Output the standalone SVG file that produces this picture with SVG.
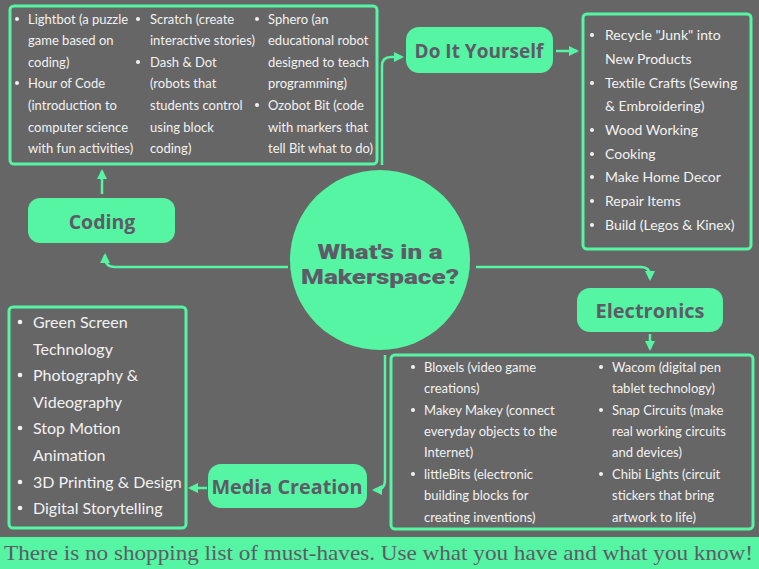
<svg xmlns="http://www.w3.org/2000/svg" width="759" height="569" viewBox="0 0 759 569">
<defs>
<style>
.bg{fill:#666666}
.box{fill:none;stroke:#55f5a3;stroke-width:3}
.node{fill:#55f5a3}
.lbl{font-family:"Open Sans","Liberation Sans",sans-serif;font-weight:bold;fill:#5e5b68;text-anchor:middle}
.ctr{font-family:Roboto,"Liberation Sans",sans-serif;font-weight:900;fill:#5e5b68;text-anchor:middle;font-size:21px}
.t{font-family:Lato,"Liberation Sans",sans-serif;fill:#f2f2f2}
.t13{font-size:13px}
.t14{font-size:14px}
.t16{font-size:16px}
.b{fill:#f2f2f2}
.conn{fill:none;stroke:#55f5a3;stroke-width:2.5}
</style>
<marker id="ah" viewBox="0 0 10 10" refX="8" refY="5" markerWidth="4" markerHeight="4" orient="auto" markerUnits="strokeWidth">
<path d="M0,0 L10,5 L0,10 Z" fill="#55f5a3"/>
</marker>
</defs>
<rect class="bg" x="0" y="0" width="759" height="569"/>

<g id="connectors">
<path class="conn" d="M382,165 L382,66 Q382,57 391,57 L402,57" marker-end="url(#ah)"/>
<path class="conn" d="M556,51 L577,51" marker-end="url(#ah)"/>
<path class="conn" d="M102,194 L102,171" marker-end="url(#ah)"/>
<path class="conn" d="M288,267 L115,267 Q105,267 105,257 L105,255" marker-end="url(#ah)"/>
<path class="conn" d="M476,267 L641,267 Q650,267 650,276 L650,279" marker-end="url(#ah)"/>
<path class="conn" d="M650,334 L650,349" marker-end="url(#ah)"/>
<path class="conn" d="M385,355 L385,480 Q385,490 375,490 L374,490" marker-end="url(#ah)"/>
<path class="conn" d="M207,488 L190,488" marker-end="url(#ah)"/>
</g>

<g id="center">
<circle class="node" cx="380" cy="260" r="90"/>
<text class="ctr" x="380" y="259" textLength="125" lengthAdjust="spacingAndGlyphs">What's in a</text>
<text class="ctr" x="380" y="284" textLength="158" lengthAdjust="spacingAndGlyphs">Makerspace?</text>
</g>

<g id="coding">
<rect class="node" x="28" y="198" width="147" height="45" rx="12"/>
<text class="lbl" x="102" y="229" font-size="19.5">Coding</text>
</g>

<g id="coding-list">
<rect class="box" x="10" y="6" width="367" height="158" rx="4"/>
<g class="t t13">
<text x="28" y="24">Lightbot (a puzzle</text>
<text x="28" y="45">game based on</text>
<text x="28" y="67">coding)</text>
<text x="28" y="88">Hour of Code</text>
<text x="28" y="110">(introduction to</text>
<text x="28" y="132">computer science</text>
<text x="28" y="153">with fun activities)</text>
<text x="150" y="24">Scratch (create</text>
<text x="150" y="45">interactive stories)</text>
<text x="150" y="67">Dash &amp; Dot</text>
<text x="150" y="88">(robots that</text>
<text x="150" y="110">students control</text>
<text x="150" y="132">using block</text>
<text x="150" y="153">coding)</text>
<text x="268" y="24">Sphero (an</text>
<text x="268" y="45">educational robot</text>
<text x="268" y="67">designed to teach</text>
<text x="268" y="88">programming)</text>
<text x="268" y="110">Ozobot Bit (code</text>
<text x="268" y="132">with markers that</text>
<text x="268" y="153">tell Bit what to do)</text>
</g>
<g class="b">
<circle cx="17" cy="19" r="2"/><circle cx="17" cy="83" r="2"/>
<circle cx="138" cy="19" r="2"/><circle cx="138" cy="62" r="2"/>
<circle cx="257" cy="19" r="2"/><circle cx="257" cy="105" r="2"/>
</g>
</g>

<g id="diy">
<rect class="node" x="406" y="27" width="147" height="46" rx="13"/>
<text class="lbl" x="479" y="58" font-size="19">Do It Yourself</text>
</g>

<g id="diy-list">
<rect class="box" x="583" y="14" width="168" height="235" rx="4"/>
<g class="t t14">
<text x="605" y="40">Recycle "Junk" into</text>
<text x="605" y="64">New Products</text>
<text x="605" y="88">Textile Crafts (Sewing</text>
<text x="605" y="111">&amp; Embroidering)</text>
<text x="605" y="135">Wood Working</text>
<text x="605" y="159">Cooking</text>
<text x="605" y="182">Make Home Decor</text>
<text x="605" y="206">Repair Items</text>
<text x="605" y="230">Build (Legos &amp; Kinex)</text>
</g>
<g class="b">
<circle cx="592" cy="35" r="2"/><circle cx="592" cy="83" r="2"/><circle cx="592" cy="130" r="2"/>
<circle cx="592" cy="154" r="2"/><circle cx="592" cy="177" r="2"/><circle cx="592" cy="201" r="2"/><circle cx="592" cy="225" r="2"/>
</g>
</g>

<g id="electronics">
<rect class="node" x="577" y="288" width="146" height="44" rx="13"/>
<text class="lbl" x="650" y="318" font-size="20">Electronics</text>
</g>

<g id="electronics-list">
<rect class="box" x="391" y="355" width="362" height="174" rx="4"/>
<g class="t t13">
<text x="424" y="372">Bloxels (video game</text>
<text x="424" y="393">creations)</text>
<text x="424" y="415">Makey Makey (connect</text>
<text x="424" y="436">everyday objects to the</text>
<text x="424" y="457">Internet)</text>
<text x="424" y="479">littleBits (electronic</text>
<text x="424" y="500">building blocks  for</text>
<text x="424" y="522">creating inventions)</text>
<text x="612" y="372">Wacom (digital pen</text>
<text x="612" y="393">tablet technology)</text>
<text x="612" y="415">Snap Circuits (make</text>
<text x="612" y="436">real working circuits</text>
<text x="612" y="457">and devices)</text>
<text x="612" y="479">Chibi Lights (circuit</text>
<text x="612" y="500">stickers that  bring</text>
<text x="612" y="522">artwork to life)</text>
</g>
<g class="b">
<circle cx="413" cy="367" r="2"/><circle cx="413" cy="410" r="2"/><circle cx="413" cy="474" r="2"/>
<circle cx="601" cy="367" r="2"/><circle cx="601" cy="410" r="2"/><circle cx="601" cy="474" r="2"/>
</g>
</g>

<g id="media">
<rect class="node" x="208" y="464" width="159" height="44" rx="13"/>
<text class="lbl" x="287" y="494" font-size="19.8">Media Creation</text>
</g>

<g id="media-list">
<rect class="box" x="9" y="307" width="177" height="221" rx="4"/>
<g class="t t16">
<text x="33" y="328">Green Screen</text>
<text x="33" y="355">Technology</text>
<text x="33" y="381">Photography &amp;</text>
<text x="33" y="408">Videography</text>
<text x="33" y="434">Stop Motion</text>
<text x="33" y="461">Animation</text>
<text x="33" y="488">3D Printing &amp; Design</text>
<text x="33" y="514">Digital Storytelling</text>
</g>
<g class="b">
<circle cx="20" cy="322" r="2.3"/><circle cx="20" cy="375" r="2.3"/><circle cx="20" cy="428" r="2.3"/>
<circle cx="20" cy="482" r="2.3"/><circle cx="20" cy="508" r="2.3"/>
</g>
</g>

<g id="banner">
<rect x="0" y="537" width="759" height="32" fill="#55f5a3"/>
<text x="4" y="560" font-family="'Liberation Serif',serif" font-size="21" fill="#5e5b68" textLength="749" lengthAdjust="spacingAndGlyphs">There is no shopping list of must-haves. Use what you have and what you know!</text>
</g>
</svg>
